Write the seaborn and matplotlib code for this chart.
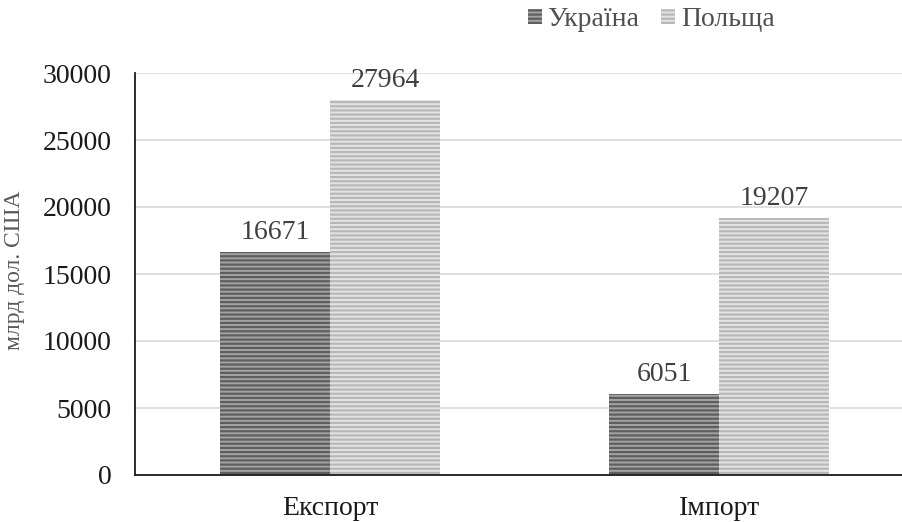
import matplotlib
matplotlib.use("Agg")
import matplotlib.pyplot as plt
import pandas as pd
import seaborn as sns
from matplotlib.patches import Patch

# data
categories = ["Експорт", "Імпорт"]
countries = ["Україна", "Польща"]
ukraine_values = [16671, 6051]
poland_values = [27964, 19207]
y_ticks = [0, 5000, 10000, 15000, 20000, 25000, 30000]

face_colors = {"Україна": "#a3a3a3", "Польща": "#e4e4e4"}
hatch_colors = {"Україна": "#5e5e5e", "Польща": "#b8b8b8"}

sns.set_style("white")
plt.rcParams["font.family"] = ["Liberation Serif", "DejaVu Serif"]
plt.rcParams["hatch.linewidth"] = 1.6

df = pd.DataFrame(
    {
        "category": categories * 2,
        "country": [countries[0]] * 2 + [countries[1]] * 2,
        "value": ukraine_values + poland_values,
    }
)

fig = plt.figure(figsize=(9.02, 5.22), dpi=100)
ax = fig.add_axes([135 / 902, 1 - 475 / 522, 1 - 135 / 902, 402 / 522])

sns.barplot(
    data=df,
    x="category",
    y="value",
    hue="country",
    hue_order=countries,
    order=categories,
    width=0.566,
    ax=ax,
    legend=False,
)

for container, name in zip(ax.containers, countries):
    for bar in container:
        bar.set_facecolor(face_colors[name])
        bar.set_edgecolor(hatch_colors[name])
        bar.set_hatch("----")
        bar.set_linewidth(0)
    ax.bar_label(container, fmt="%d", padding=5, fontsize=20, color="#404040")

ax.set_ylim(0, 30000)
ax.set_xlim(-0.501, 1.47)
ax.set_yticks(y_ticks)
ax.yaxis.grid(True, color="#d9d9d9", linewidth=1.2)
ax.set_axisbelow(True)
ax.tick_params(axis="y", length=0, pad=17, labelsize=20, labelcolor="#1a1a1a")
ax.tick_params(axis="x", length=0, pad=15, labelsize=20, labelcolor="#1a1a1a")
ax.set_xlabel("")
ax.set_ylabel("млрд дол. США", fontsize=17, color="#595959")
ax.yaxis.set_label_coords(-0.143, 0.51)

for side in ["top", "right"]:
    ax.spines[side].set_visible(False)
for side in ["left", "bottom"]:
    ax.spines[side].set_color("#1a1a1a")
    ax.spines[side].set_linewidth(1.3)

handles = [
    Patch(facecolor=face_colors[c], edgecolor=hatch_colors[c], hatch="----", linewidth=0)
    for c in countries
]
fig.legend(
    handles,
    countries,
    loc="center",
    bbox_to_anchor=(0.722, 0.962),
    ncol=2,
    frameon=False,
    fontsize=20,
    handlelength=0.5,
    handleheight=0.5,
    handletextpad=0.2,
    columnspacing=0.8,
    labelcolor="#505050",
    borderpad=0,
)

fig.savefig("out.png", dpi=100)
